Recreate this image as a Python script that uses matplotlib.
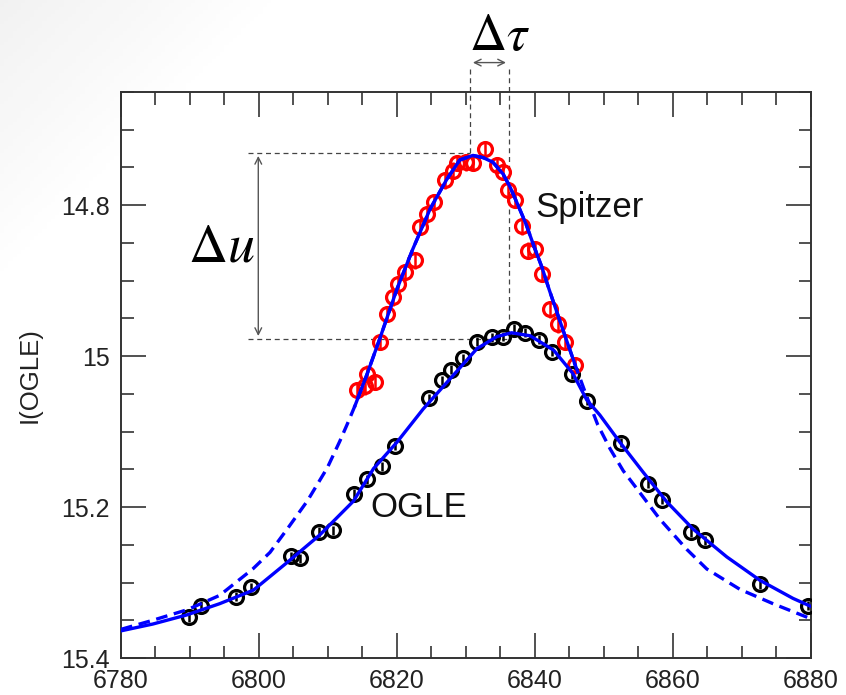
import matplotlib.pyplot as plt
import numpy as np
from matplotlib.ticker import MultipleLocator

plt.rcParams['font.family'] = ['Liberation Sans', 'DejaVu Sans']
plt.rcParams['mathtext.fontset'] = 'stix'

# OGLE photometry (HJD - 2450000, I mag)
ogle_t = [6789.8, 6791.6, 6796.6, 6798.8, 6804.6, 6805.9, 6808.7, 6810.8,
          6813.7, 6815.6, 6817.9, 6819.7, 6824.7, 6826.5, 6827.9, 6829.6,
          6831.6, 6833.7, 6835.4, 6836.9, 6838.6, 6840.6, 6842.4, 6845.3,
          6847.6, 6852.4, 6856.4, 6858.4, 6862.6, 6864.6, 6872.6, 6879.5]
ogle_mag = [15.346, 15.331, 15.319, 15.306, 15.265, 15.268, 15.233, 15.231,
            15.182, 15.163, 15.146, 15.119, 15.056, 15.032, 15.018, 15.003,
            14.981, 14.975, 14.974, 14.964, 14.969, 14.978, 14.994, 15.024,
            15.059, 15.115, 15.169, 15.190, 15.233, 15.244, 15.302, 15.331]
ogle_err = 0.006

# Spitzer photometry, shifted to the OGLE scale
spitzer_t = [6814.2, 6815.4, 6815.7, 6816.8, 6817.5, 6818.6, 6819.4, 6820.2,
             6821.2, 6822.6, 6823.3, 6824.3, 6825.4, 6827.0, 6828.1, 6828.7,
             6830.0, 6831.0, 6832.8, 6834.5, 6835.4, 6836.1, 6837.1, 6838.1,
             6839.0, 6840.0, 6841.0, 6842.2, 6843.3, 6844.3, 6845.8]
spitzer_mag = [15.045, 15.040, 15.023, 15.034, 14.981, 14.944, 14.922, 14.905,
               14.889, 14.873, 14.829, 14.812, 14.796, 14.767, 14.754, 14.744,
               14.743, 14.744, 14.726, 14.747, 14.756, 14.780, 14.793, 14.828,
               14.860, 14.858, 14.891, 14.938, 14.958, 14.981, 15.012]
spitzer_err = 0.011

# model curves
ogle_model_t = [6780.0, 6784.6, 6789.5, 6794.3, 6799.2, 6804.0, 6808.8, 6813.7,
                6816.6, 6820.0, 6823.8, 6827.7, 6831.6, 6834.5, 6836.6, 6839.3,
                6842.7, 6845.5, 6847.5, 6849.4, 6852.3, 6855.7, 6859.1, 6862.9,
                6867.8, 6872.6, 6877.4, 6880.1]
ogle_model_mag = [15.364, 15.355, 15.343, 15.328, 15.310, 15.274, 15.237, 15.192,
                  15.149, 15.114, 15.070, 15.030, 14.990, 14.974, 14.969, 14.973,
                  14.992, 15.023, 15.058, 15.078, 15.114, 15.154, 15.193, 15.229,
                  15.266, 15.297, 15.321, 15.332]

spitzer_model_t = [6780.0, 6784.6, 6789.6, 6794.3, 6799.1, 6801.6, 6804.1, 6807.0,
                   6809.9, 6811.7, 6812.8, 6813.9, 6815.7, 6817.5, 6820.0, 6822.3,
                   6824.8, 6827.2, 6829.1, 6831.0, 6832.5, 6833.9, 6835.4, 6836.4,
                   6837.5, 6838.7, 6839.8, 6841.0, 6842.1, 6843.3, 6844.5, 6845.8,
                   6847.4, 6849.1, 6850.9, 6852.8, 6854.8, 6858.1, 6862.0, 6864.9,
                   6869.7, 6874.5, 6880.0]
spitzer_model_mag = [15.362, 15.350, 15.336, 15.317, 15.282, 15.260, 15.229, 15.192,
                     15.148, 15.113, 15.090, 15.066, 15.023, 14.977, 14.911, 14.858,
                     14.805, 14.766, 14.740, 14.734, 14.737, 14.743, 14.759, 14.776,
                     14.799, 14.825, 14.853, 14.882, 14.913, 14.945, 14.977, 15.011,
                     15.051, 15.091, 15.123, 15.152, 15.176, 15.216, 15.256, 15.282,
                     15.309, 15.328, 15.348]

# peak positions used for the delta-tau / delta-u markers
t0_spitzer, m0_spitzer = 6830.6, 14.731
t0_ogle, m0_ogle = 6836.2, 14.977

fig = plt.figure(figsize=(8.46, 6.95), dpi=100)

# faint grey wash in the upper-left corner of the slide
bg = fig.add_axes([0, 0, 1, 1], zorder=-5)
gx, gy = np.meshgrid(np.linspace(0, 1, 200), np.linspace(0, 1, 200))
wash = np.clip(1 - (gx * 846 + gy * 695) / 280.0, 0, 1)
bg.imshow(wash, cmap='Greys', vmin=0, vmax=9, extent=[0, 1, 1, 0], aspect='auto')
bg.set_xlim(0, 1)
bg.set_ylim(1, 0)
bg.axis('off')

ax = fig.add_axes([0.143, 0.0532, 0.8156, 0.8144])
ax.patch.set_facecolor('white')

blue = '#0000ff'
ax.errorbar(ogle_t, ogle_mag, yerr=ogle_err, fmt='o', mfc='none', mec='black',
            ecolor='black', ms=10, mew=2.3, elinewidth=1.8, capsize=0, zorder=3)
ax.errorbar(spitzer_t, spitzer_mag, yerr=spitzer_err, fmt='o', mfc='none', mec='red',
            ecolor='red', ms=10, mew=2.3, elinewidth=1.8, capsize=0, zorder=3)

ax.plot(ogle_model_t, ogle_model_mag, color=blue, lw=2.4, zorder=4)

st = np.array(spitzer_model_t)
sm = np.array(spitzer_model_mag)
ax.plot(st, sm, color=blue, lw=2.4, ls=(0, (3.5, 2)), zorder=4)
inside = (st >= 6813.9) & (st <= 6845.8)
ax.plot(st[inside], sm[inside], color=blue, lw=2.4, zorder=4)

ax.set_xlim(6780, 6880)
ax.set_ylim(15.4, 14.65)
ax.xaxis.set_major_locator(MultipleLocator(20))
ax.xaxis.set_minor_locator(MultipleLocator(5))
ax.yaxis.set_major_locator(MultipleLocator(0.2))
ax.yaxis.set_minor_locator(MultipleLocator(0.05))
ax.yaxis.set_major_formatter(plt.FuncFormatter(lambda v, p: f'{v:g}'))
ax.tick_params(which='both', direction='in', top=True, right=True,
               color='#333333', width=1.2, labelsize=18, labelcolor='#222222')
ax.tick_params(which='major', length=18, pad=8)
ax.tick_params(which='minor', length=9)
for s in ax.spines.values():
    s.set_color('#333333')
    s.set_linewidth(1.4)
ax.set_ylabel('I(OGLE)', fontsize=18.5, color='#222222', labelpad=14)

ax.text(6840.0, 14.803, 'Spitzer', fontsize=25, va='center', ha='left', color='#111111')
ax.text(6816.1, 15.200, 'OGLE', fontsize=25, va='center', ha='left', color='#111111')

# delta-tau / delta-u guides
guide = dict(color='#444444', lw=0.9, ls=(0, (4, 3)), clip_on=False, zorder=2)
ax.plot([6798.4, t0_spitzer], [m0_spitzer, m0_spitzer], **guide)
ax.plot([6798.4, t0_ogle], [m0_ogle, m0_ogle], **guide)
ax.plot([t0_spitzer, t0_spitzer], [14.620, m0_spitzer], **guide)
ax.plot([t0_ogle, t0_ogle], [14.620, 14.962], **guide)

arrow = dict(arrowstyle='<->', color='#555555', lw=1.0, mutation_scale=12)
ax.annotate('', xy=(t0_spitzer, 14.611), xytext=(t0_ogle, 14.611),
            arrowprops=arrow, annotation_clip=False)
ax.annotate('', xy=(6799.9, m0_spitzer), xytext=(6799.9, m0_ogle),
            arrowprops=arrow, annotation_clip=False)
ax.text(6834.9, 14.576, r'$\Delta\tau$', fontsize=37, ha='center', va='center')
ax.text(6794.6, 14.856, r'$\Delta u$', fontsize=39, ha='center', va='center')

fig.savefig('out.png', dpi=100)
